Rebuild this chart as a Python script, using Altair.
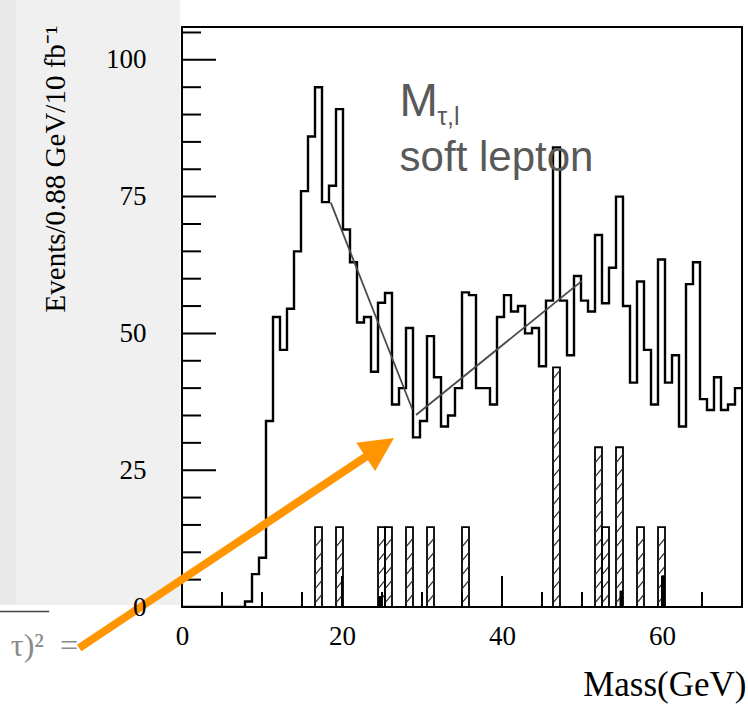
import math
import altair as alt
import pandas as pd

# ---------------- data ----------------
bin_width = 0.875  # GeV (label says 0.88)
counts = [0, 0, 0, 0, 0, 0, 0, 0, 0, 1, 6, 9, 34, 53, 47, 54.5, 65, 76, 86, 95,
          74, 77, 91, 69, 63, 52, 53, 43, 55.6, 57.4, 37, 40, 51, 31, 34, 49.5, 42, 33, 35, 40,
          57.5, 57, 40, 40, 37, 53, 57, 54, 55, 50, 51, 44, 56, 84, 56, 46, 60.5, 56, 54, 68,
          55.5, 62, 75, 55, 41, 59.5, 47, 37, 63.5, 41, 46, 33, 59, 63, 38, 36, 42, 36, 37, 40]

hatch_bins = [19, 22, 28, 29, 32, 35, 40, 53, 59, 60, 62, 65, 68]
hatch_vals = [14.6, 14.6, 14.6, 14.6, 14.6, 14.6, 14.6, 43.8, 29.2, 14.6, 29.2, 14.6, 14.6]

solid_x0 = [24.5, 54.69, 59.94]
solid_x1 = [24.94, 55.125, 60.375]
solid_vals = [2.0, 3.0, 5.8]

fit_x0 = [18.6, 29.25]
fit_y0 = [73.9, 35.1]
fit_x1 = [28.8, 50.0]
fit_y1 = [36.1, 59.6]

x_label_values = [0, 20, 40, 60]
y_label_values = [0, 25, 50, 75, 100]
x_minor = [5, 10, 15, 25, 30, 35, 45, 50, 55, 65]
x_major = [20, 40, 60]
y_minor = [5, 10, 15, 20, 30, 35, 40, 45, 55, 60, 65, 70, 80, 85, 90, 95, 105]
y_major = [0, 25, 50, 75, 100]

arrow_start = (-12.85, -7.5)
arrow_tip = (26.5, 30.9)

# ---------------- geometry / styles ----------------
W, H = 560, 580
XMAX, YMAX = 70, 106
pxx = W / XMAX
pxy = H / YMAX
ORANGE = "#ff9500"
SERIF = "Liberation Serif"
SANS = "Liberation Sans"
GREY_TXT = "#595959"
NBSP = "\u00a0"

xs = alt.Scale(domain=[0, XMAX], nice=False, zero=False)
ys = alt.Scale(domain=[0, YMAX], nice=False, zero=False)

xaxis = alt.Axis(values=x_label_values, ticks=False, domain=False, grid=False, zindex=1,
                 labelFont=SERIF, labelFontSize=27, labelPadding=16, labelColor="black",
                 labelFlush=False, title="Mass(GeV)", titleFont=SERIF, titleFontSize=35,
                 titleFontWeight="normal", titleColor="black", titleX=W + 4, titleY=77,
                 titleAlign="right", titleBaseline="middle")
yaxis = alt.Axis(values=y_label_values, ticks=False, domain=False, grid=False, zindex=1,
                 labelFont=SERIF, labelFontSize=27, labelPadding=36, labelColor="black",
                 labelFlush=False, title="Events/0.88 GeV/10 fb⁻¹", titleFont=SERIF,
                 titleFontSize=29, titleFontWeight="normal", titleColor="black",
                 titleX=-127, titleY=-2, titleAlign="right", titleAngle=270,
                 titleBaseline="middle")


def X(f):
    return alt.X(f, type="quantitative", scale=xs, axis=xaxis)


def Y(f):
    return alt.Y(f, type="quantitative", scale=ys, axis=yaxis)


# slide background panel on the left
panel = alt.Chart(pd.DataFrame({"k": [0]})).mark_rect(color="#f0f0f0").encode(
    x=alt.value(-182), x2=alt.value(-2), y=alt.value(-27), y2=alt.value(H - 2))
strip = alt.Chart(pd.DataFrame({"k": [0]})).mark_rect(color="#e9e9e9").encode(
    x=alt.value(-182), x2=alt.value(-166), y=alt.value(-27), y2=alt.value(H - 2))

# histogram outline
edges = [i * bin_width for i in range(len(counts) + 1)]
hist_df = pd.DataFrame({"x": edges, "y": counts + [counts[-1]]})
hist = alt.Chart(hist_df).mark_line(interpolate="step-after", color="black",
                                    strokeWidth=2.4, clip=True).encode(x=X("x"), y=Y("y"))

# hatched component
hb_df = pd.DataFrame({"x": [b * bin_width for b in hatch_bins],
                      "x2": [(b + 1) * bin_width for b in hatch_bins],
                      "y": hatch_vals})
hb = alt.Chart(hb_df).mark_rect(fillOpacity=0, stroke="black", strokeWidth=1.8).encode(
    x=X("x"), x2="x2", y=Y("y"), y2=alt.datum(0))

rise = bin_width * pxx / pxy
spacing = 14 / pxy
rows = []
for b, v in zip(hatch_bins, hatch_vals):
    x0 = b * bin_width
    yy = 0.35 * spacing
    while yy + rise <= v - 0.2:
        rows.append({"x": x0 + 0.08, "x2": x0 + bin_width - 0.08, "y": yy, "y2": yy + rise})
        yy += spacing
hatch_df = pd.DataFrame(rows)
hatch = alt.Chart(hatch_df).mark_rule(color="#333333", strokeWidth=1.3).encode(
    x=X("x"), x2="x2", y=Y("y"), y2="y2")

solid_df = pd.DataFrame({"x": solid_x0, "x2": solid_x1, "y": solid_vals})
solid = alt.Chart(solid_df).mark_rect(color="black").encode(
    x=X("x"), x2="x2", y=Y("y"), y2=alt.datum(0))

fit_df = pd.DataFrame({"x": fit_x0, "y": fit_y0, "x2": fit_x1, "y2": fit_y1})
fits = alt.Chart(fit_df).mark_rule(color="#4a4a4a", strokeWidth=1.8).encode(
    x=X("x"), y=Y("y"), x2="x2", y2="y2")

# inward ticks
ytick_min = alt.Chart(pd.DataFrame({"v": y_minor})).mark_rule(color="black", strokeWidth=2).encode(
    y=Y("v"), x=alt.value(0), x2=alt.value(19))
ytick_maj = alt.Chart(pd.DataFrame({"v": y_major})).mark_rule(color="black", strokeWidth=2).encode(
    y=Y("v"), x=alt.value(0), x2=alt.value(34))
xtick_min = alt.Chart(pd.DataFrame({"v": x_minor})).mark_rule(color="black", strokeWidth=2).encode(
    x=X("v"), y=alt.value(H), y2=alt.value(H - 15))
xtick_maj = alt.Chart(pd.DataFrame({"v": x_major})).mark_rule(color="black", strokeWidth=2).encode(
    x=X("v"), y=alt.value(H), y2=alt.value(H - 31))

# annotation texts
txt_main = alt.Chart(pd.DataFrame({"x": [27.2], "y": [89.7], "t": ["M"]})).mark_text(
    font=SANS, fontSize=46, color=GREY_TXT, align="left", baseline="alphabetic").encode(
    x=X("x"), y=Y("y"), text="t")
txt_sub = alt.Chart(pd.DataFrame({"x": [31.9], "y": [88.0], "t": ["τ,l"]})).mark_text(
    font=SANS, fontSize=25, color=GREY_TXT, align="left", baseline="alphabetic").encode(
    x=X("x"), y=Y("y"), text="t")
txt_soft = alt.Chart(pd.DataFrame({"x": [27.2], "y": [79.6], "t": ["soft lepton"]})).mark_text(
    font=SANS, fontSize=42, color=GREY_TXT, align="left", baseline="alphabetic").encode(
    x=X("x"), y=Y("y"), text="t")
formula_text = "τ)²" + NBSP * 2 + "="
txt_formula = alt.Chart(pd.DataFrame({"x": [-13.0], "y": [-8.9], "t": [formula_text]})).mark_text(
    font=SERIF, fontSize=32, color="#8a8a8a", align="right", baseline="alphabetic").encode(
    x=X("x"), y=Y("y"), text="t")
overline = alt.Chart(pd.DataFrame({"x": [-22.8], "x2": [-16.6], "y": [-0.8]})).mark_rule(
    color="#444444", strokeWidth=1.5).encode(x=X("x"), x2="x2", y=Y("y"))

# arrow (pixel direction derived from the two end points)
sx, sy = arrow_start[0] * pxx, -arrow_start[1] * pxy
tx, ty = arrow_tip[0] * pxx, -arrow_tip[1] * pxy
dx, dy = tx - sx, ty - sy
L = math.hypot(dx, dy)
ux, uy = dx / L, dy / L
head = 34
cx, cy = tx - ux * head / 2, ty - uy * head / 2
ex, ey = tx - ux * (head - 4), ty - uy * (head - 4)
shaft_df = pd.DataFrame({"x": [arrow_start[0]], "y": [arrow_start[1]],
                         "x2": [ex / pxx], "y2": [-ey / pxy]})
shaft = alt.Chart(shaft_df).mark_rule(color=ORANGE, strokeWidth=8).encode(
    x=X("x"), y=Y("y"), x2="x2", y2="y2")
angle = math.degrees(math.atan2(dx, -dy)) % 360
head_df = pd.DataFrame({"x": [cx / pxx], "y": [-cy / pxy]})
arrowhead = alt.Chart(head_df).mark_point(shape="M0,-1L1,1L-1,1Z", filled=True, fill=ORANGE,
                                          color=ORANGE, opacity=1, size=head * head,
                                          angle=angle, strokeWidth=0).encode(
    x=X("x"), y=Y("y"))

chart = alt.layer(panel, strip, hb, hatch, solid, hist, fits, ytick_min, ytick_maj, xtick_min,
                  xtick_maj, txt_main, txt_sub, txt_soft, txt_formula, overline, shaft,
                  arrowhead).properties(
    width=W, height=H,
    padding={"left": 182, "top": 27, "right": 6, "bottom": 98},
    autosize=alt.AutoSizeParams(type="none"),
    background="white",
).configure_view(stroke="black", strokeWidth=2)

chart.save("out.html", embed_options={"renderer": "svg", "actions": False})
